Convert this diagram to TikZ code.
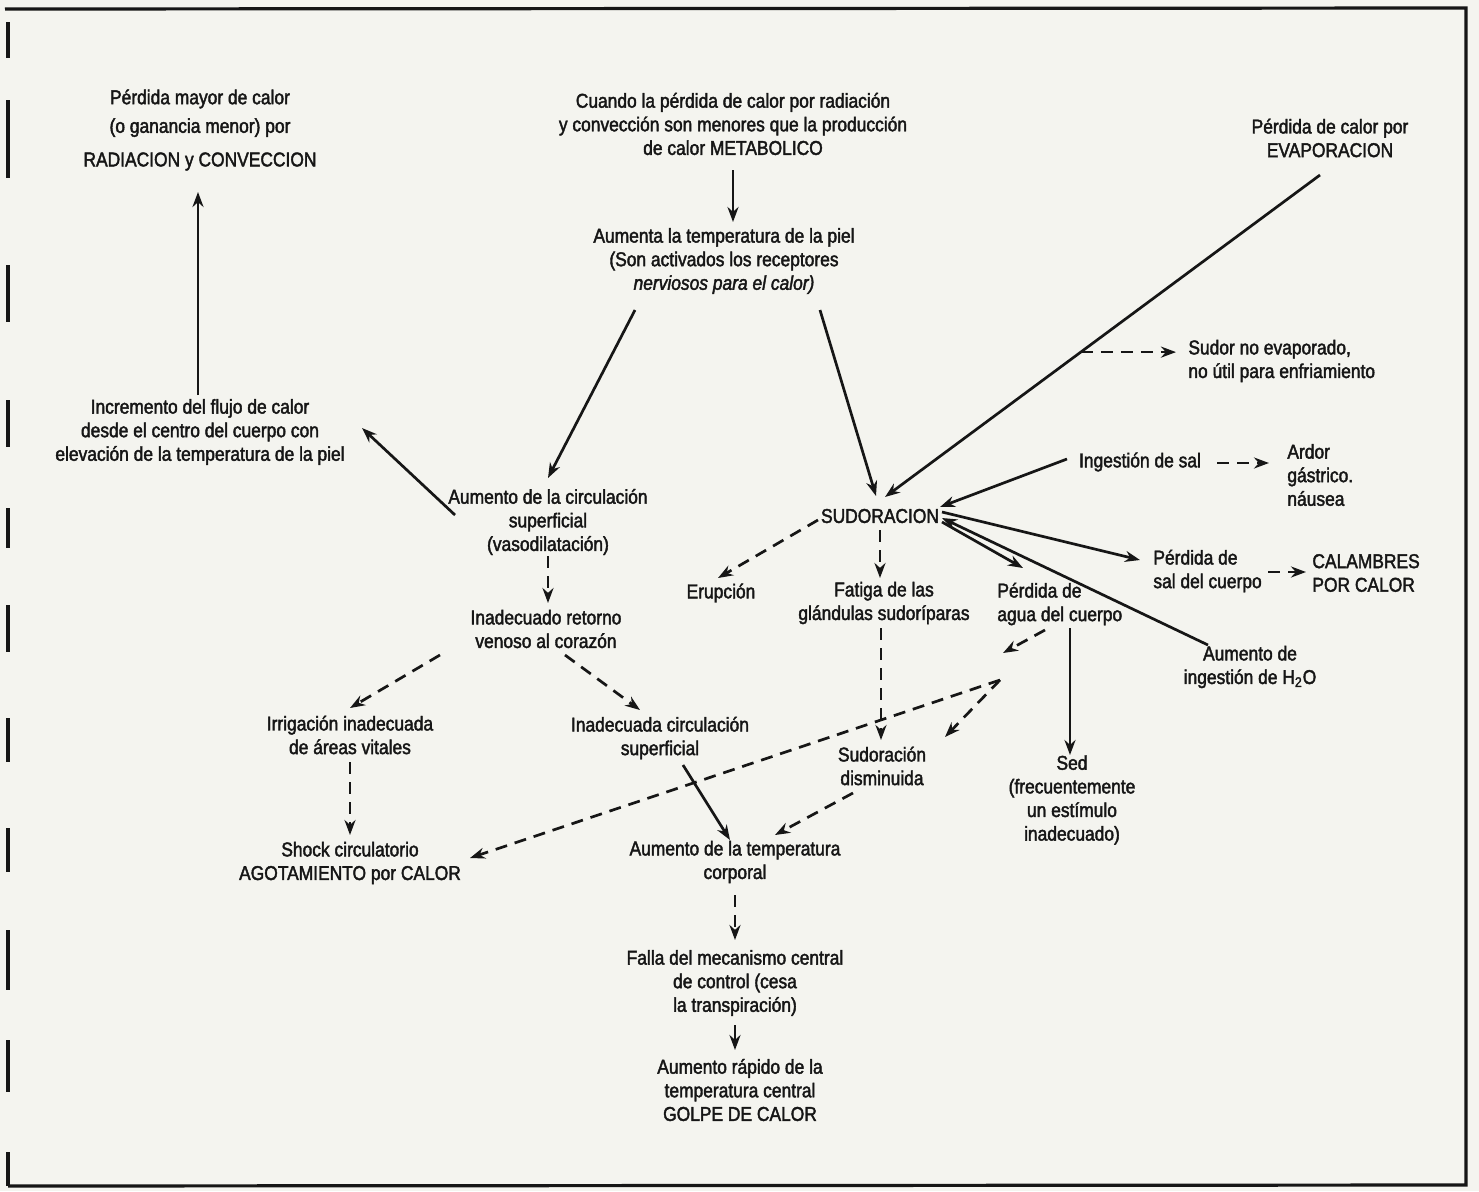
\documentclass[tikz,border=0pt]{standalone}
\usepackage{fontspec}
\setmainfont[FakeStretch=0.87,FakeBold=2]{Liberation Sans}
\usetikzlibrary{arrows.meta,calc}
\definecolor{ink}{RGB}{22,22,22}
\definecolor{paper}{RGB}{244,244,239}
\begin{document}
\begin{tikzpicture}[x=0.5pt,y=-0.5pt,
  lbl/.style={align=center,inner sep=1pt,text=ink,font=\fontsize{10}{11.8}\selectfont},
  lbll/.style={lbl,align=left},
  arr/.style={draw=ink,line width=1.35pt,-{Stealth[length=7.5pt,width=5.5pt]}},
  darr/.style={arr,dash pattern=on 6pt off 4pt},
  frame/.style={draw=ink,line width=1.6pt}]
\useasboundingbox[fill=paper] (0,0) rectangle (1479,1191);
% frame
\draw[frame] (5,9) -- (1466,8) -- (1466,1185) -- (8,1186);
\foreach \a/\b in {22/58,100/178,265/322,400/447,508/548,605/652,718/762,828/872,930/990,1040/1092,1152/1186}
  \draw[frame] (8,\a) -- (8,\b);
% nodes
\node[lbl] (tl) at (200,130) {Pérdida mayor de calor\\[2.5pt](o ganancia menor) por\\[5pt]RADIACION y CONVECCION};
\node[lbl] (top) at (733,124) {Cuando la pérdida de calor por radiación\\y convección son menores que la producción\\de calor METABOLICO};
\node[lbl] (aum) at (724,261) {Aumenta la temperatura de la piel\\(Son activados los receptores\\\itshape nerviosos para el calor)};
\node[lbl] (evap) at (1330,138) {Pérdida de calor por\\EVAPORACION};
\node[lbll,anchor=west] (sudorno) at (1186,361) {Sudor no evaporado,\\no útil para enfriamiento};
\node[lbl] (incr) at (200,432) {Incremento del flujo de calor\\desde el centro del cuerpo con\\elevación de la temperatura de la piel};
\node[lbl] (vaso) at (548,522) {Aumento de la circulación\\superficial\\(vasodilatación)};
\node[lbl] (sud) at (880,516) {SUDORACION};
\node[lbl] (ingsal) at (1140,462) {Ingestión de sal};
\node[lbll,anchor=west] (ardor) at (1285,475) {Ardor\\gástrico.\\náusea};
\node[lbl] (erup) at (721,593) {Erupción};
\node[lbl] (fatiga) at (884,603) {Fatiga de las\\glándulas sudoríparas};
\node[lbll,anchor=west] (agua) at (995,604) {Pérdida de\\agua del cuerpo};
\node[lbll,anchor=west] (psal) at (1151,571) {Pérdida de\\sal del cuerpo};
\node[lbll,anchor=west] (calam) at (1310,573) {CALAMBRES\\POR CALOR};
\node[lbl] (h2o) at (1250,667) {Aumento de\\ingestión de H\textsubscript{2}O};
\node[lbl] (retorno) at (546,629) {Inadecuado retorno\\venoso al corazón};
\node[lbl] (irrig) at (350,735) {Irrigación inadecuada\\de áreas vitales};
\node[lbl] (inadc) at (660,738) {Inadecuada circulación\\superficial};
\node[lbl] (sdism) at (882,766) {Sudoración\\disminuida};
\node[lbl] (sed) at (1072,800) {Sed\\(frecuentemente\\un estímulo\\inadecuado)};
\node[lbl] (shock) at (350,863) {Shock circulatorio\\AGOTAMIENTO por CALOR};
\node[lbl] (atc) at (735,862) {Aumento de la temperatura\\corporal};
\node[lbl] (falla) at (735,983) {Falla del mecanismo central\\de control (cesa\\la transpiración)};
\node[lbl] (golpe) at (740,1090) {Aumento rápido de la\\temperatura central\\GOLPE DE CALOR};
% connectors
\draw[arr] ($(top)+(0,46)$) -- ($(aum)+(9,-39)$);
\draw[arr] ($(aum)+(-89,49)$) -- ($(vaso)+(0,-44)$);
\draw[arr] ($(aum)+(96,49)$) -- ($(sud)+(-4,-20)$);
\draw[arr] ($(evap)+(-10,37)$) -- coordinate[pos=0.55] (jev) ($(sud)+(5,-19)$);
\draw[darr] (jev) -- ($(jev -| sudorno.west)+(-10,0)$);
\draw[arr] ($(ingsal)+(-73,-3)$) -- ($(sud)+(60,-9)$);
\draw[darr] ($(ingsal.east)+(14,1)$) -- ($(ingsal.east -| ardor.west)+(-16,1)$);
\draw[arr] ($(sud)+(62,-4)$) -- ($(psal.west)+(-11,-11)$);
\draw[arr] ($(h2o)+(-42,-22)$) -- ($(sud)+(62,2)$);
\draw[arr] ($(sud)+(62,6)$) -- ($(agua.west)+(28,-36)$);
\draw[darr] ($(psal.east)+(4,1)$) -- ($(psal.east -| calam.west)+(-4,1)$);
\draw[darr] ($(sud)+(-62,4)$) -- ($(erup)+(-3,-15)$);
\draw[darr] ($(sud)+(0,14)$) -- ($(fatiga)+(-4,-25)$);
\draw[darr] ($(fatiga)+(-3,25)$) -- ($(sdism)+(-1,-26)$);
\coordinate (jw1) at ($(agua.west)+(8,49)$);
\coordinate (jw2) at ($(agua.west)+(5,76)$);
\draw[darr] ($(agua.west)+(50,26)$) -- (jw1);
\draw[darr] (jw2) -- ($(shock)+(120,-5)$);
\draw[darr] (jw2) -- ($(sdism)+(63,-29)$);
\draw[arr] ($(agua.west)+(75,24)$) -- ($(sed)+(-2,-45)$);
\draw[arr] ($(vaso)+(-93,-7)$) -- ($(incr)+(162,-4)$);
\draw[arr] ($(incr)+(-2,-37)$) -- ($(tl)+(-2,62)$);
\draw[darr] ($(vaso)+(0,34)$) -- ($(retorno)+(2,-26)$);
\draw[darr] ($(retorno)+(-106,26)$) -- ($(irrig)+(0,-27)$);
\draw[darr] ($(retorno)+(19,26)$) -- ($(inadc)+(-20,-28)$);
\draw[darr] ($(irrig)+(0,27)$) -- ($(shock)+(0,-28)$);
\draw[arr] ($(inadc)+(23,27)$) -- ($(atc)+(-5,-22)$);
\draw[darr] ($(sdism)+(-29,27)$) -- ($(atc)+(40,-27)$);
\draw[darr] ($(atc)+(0,33)$) -- ($(falla)+(0,-43)$);
\draw[arr] ($(falla)+(0,42)$) -- ($(golpe)+(-5,-40)$);
\end{tikzpicture}
\end{document}
